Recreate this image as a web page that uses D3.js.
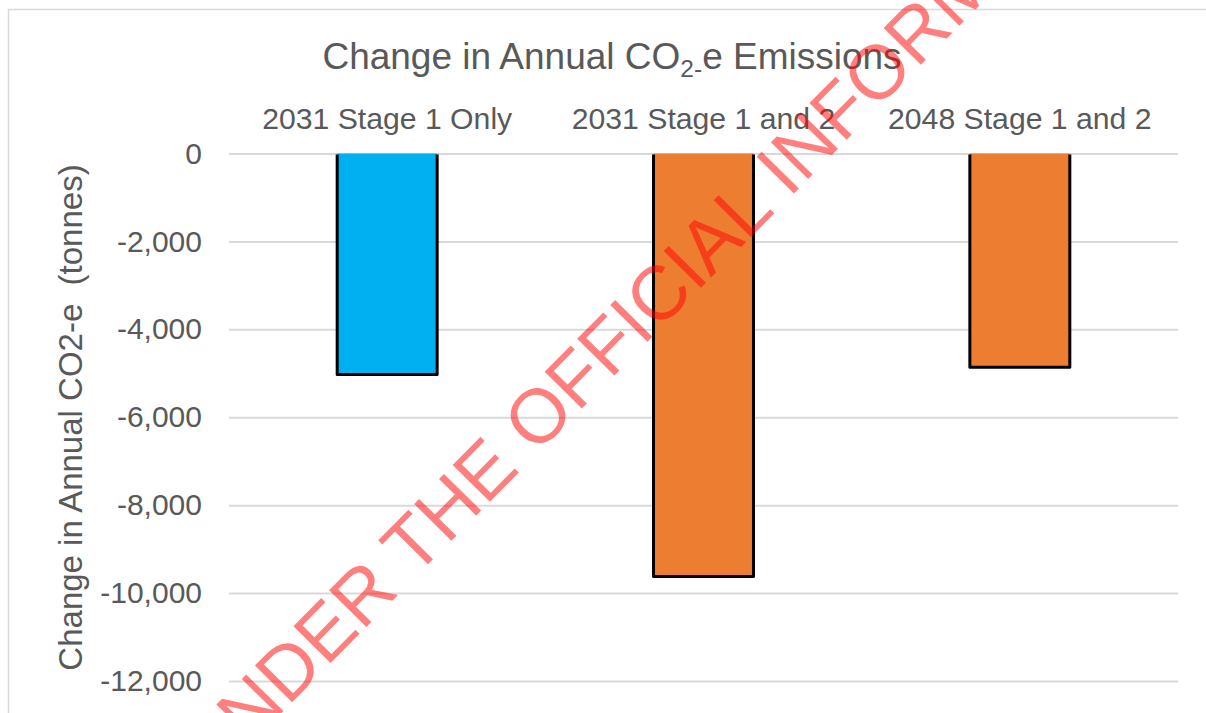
<!DOCTYPE html>
<html>
<head>
<meta charset="utf-8">
<script src="https://cdn.jsdelivr.net/npm/d3@7"></script>
<style>
  html, body { margin: 0; padding: 0; background: #ffffff; }
  svg { display: block; font-family: "Liberation Sans", Arial, sans-serif; }
</style>
</head>
<body>
<svg id="chart" width="1206" height="713"></svg>
<script>
// ---- Data ----
const categories = ["2031 Stage 1 Only", "2031 Stage 1 and 2", "2048 Stage 1 and 2"];
const values = [-5030, -9620, -4860];
const barColors = ["#00B0F0", "#ED7D31", "#ED7D31"];
const yTicks = [0, -2000, -4000, -6000, -8000, -10000, -12000];
const titleParts = ["Change in Annual CO", "2-", "e Emissions"];
const yAxisTitle = "Change in Annual CO2-e  (tonnes)";
const watermark = "RELEASED UNDER THE OFFICIAL INFORMATION ACT";

// ---- Layout ----
const svg = d3.select("#chart");
const textColor = "#595959";
const gridColor = "#D9D9D9";
const plotLeft = 229, plotRight = 1178, plotTop = 153.5, plotBottom = 681;

// chart area border
svg.append("rect")
  .attr("x", 8.5).attr("y", 9.5)
  .attr("width", 1220).attr("height", 720)
  .attr("fill", "none")
  .attr("stroke", gridColor)
  .attr("stroke-width", 1.5);

const x = d3.scaleBand()
  .domain(categories)
  .range([plotLeft, plotRight])
  .paddingInner(0.684)
  .paddingOuter(0.342);

const y = d3.scaleLinear()
  .domain([-12000, 0])
  .range([plotBottom, plotTop]);

const fmt = d3.formatLocale({decimal: ".", thousands: ",", grouping: [3], currency: ["$", ""], minus: "-"}).format(",");

// y axis with gridlines
const yAxis = svg.append("g")
  .attr("transform", `translate(${plotLeft},0)`)
  .call(d3.axisLeft(y)
    .tickValues(yTicks)
    .tickFormat(fmt)
    .tickSize(-(plotRight - plotLeft))
    .tickPadding(27));
yAxis.select(".domain").remove();
yAxis.selectAll(".tick line")
  .attr("stroke", gridColor)
  .attr("stroke-width", 2);
yAxis.selectAll(".tick text")
  .attr("fill", textColor)
  .style("font-size", "30px")
  .style("font-family", '"Liberation Sans", Arial, sans-serif');

// bars
const bars = svg.append("g");
bars.selectAll("rect")
  .data(values)
  .join("rect")
  .attr("x", (d, i) => x(categories[i]))
  .attr("y", y(0))
  .attr("width", x.bandwidth())
  .attr("height", d => y(d) - y(0))
  .attr("fill", (d, i) => barColors[i]);
bars.selectAll("path")
  .data(values)
  .join("path")
  .attr("d", (d, i) => {
    const x0 = x(categories[i]), x1 = x0 + x.bandwidth();
    return `M${x0},${y(0) + 1}V${y(d)}H${x1}V${y(0) + 1}`;
  })
  .attr("fill", "none")
  .attr("stroke", "#000")
  .attr("stroke-width", 3)
  .attr("stroke-linejoin", "round");

// category labels (top)
svg.append("g")
  .selectAll("text")
  .data(categories)
  .join("text")
  .attr("x", d => x(d) + x.bandwidth() / 2)
  .attr("y", 128.5)
  .attr("text-anchor", "middle")
  .attr("fill", textColor)
  .style("font-size", "30.2px")
  .text(d => d);

// title
const title = svg.append("text")
  .attr("x", 612)
  .attr("y", 68.5)
  .attr("text-anchor", "middle")
  .attr("fill", textColor)
  .style("font-size", "37px");
title.append("tspan").text(titleParts[0]);
title.append("tspan").attr("dy", 8).style("font-size", "24.5px").text(titleParts[1]);
title.append("tspan").attr("dy", -8).text(titleParts[2]);

// y axis title
svg.append("text")
  .attr("transform", "translate(82,417.5) rotate(-90)")
  .attr("text-anchor", "middle")
  .attr("fill", textColor)
  .style("font-size", "33px")
  .style("white-space", "pre")
  .text(yAxisTitle);

// watermark
svg.append("g")
  .attr("transform", "translate(288,668) rotate(-45.4)")
  .append("text")
  .attr("x", -564)
  .attr("y", 27)
  .attr("fill", "rgba(255,0,0,0.5)")
  .style("font-size", "76px")
  .text(watermark);
</script>
</body>
</html>
